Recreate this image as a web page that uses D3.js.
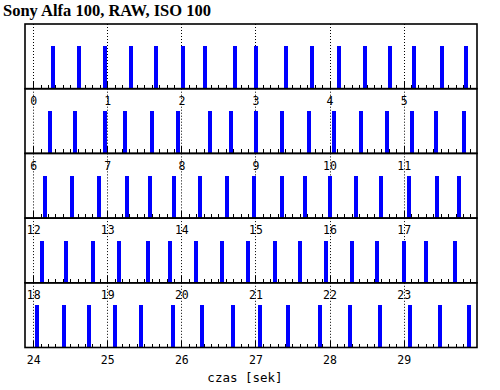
<!DOCTYPE html>
<html>
<head>
<meta charset="utf-8">
<script src="https://cdn.jsdelivr.net/npm/d3@7"></script>
<style>
  body { margin: 0; background: #fff; }
  .axis text { font-family: "DejaVu Sans Mono", monospace; font-size: 11.5px; fill: #000; }
  .axis line { stroke: #000; shape-rendering: crispEdges; }
  .bar { shape-rendering: crispEdges; }
</style>
</head>
<body>
<div id="chart"></div>
<script>
const svgWidth = 500;
const svgHeight = 390;

const margin = { top: 24, right: 23, bottom: 42.5, left: 25 };

const chartWidth = svgWidth - margin.left - margin.right;
const chartHeight = svgHeight - margin.top - margin.bottom;

// data: start of each 6 s strip, and shutter moments in seconds
const title = "Sony Alfa 100, RAW, ISO 100";
const xLabel = "czas [sek]";
const panelStarts = [0, 6, 12, 18, 24];
const panelSpan = 6;
const shutterTimes = [
    0.266, 0.617, 0.967, 1.318, 1.664, 2.028, 2.316, 2.720, 3.013, 3.408, 3.759, 4.132, 4.473, 4.820, 5.144, 5.521, 5.845,
    6.225, 6.562, 6.967, 7.237, 7.610, 7.951, 8.382, 8.675, 9.013, 9.363, 9.718, 10.055, 10.429, 10.779, 11.117, 11.440, 11.808,
    12.154, 12.531, 12.886, 13.264, 13.583, 13.907, 14.248, 14.622, 14.977, 15.363, 15.674, 16.011, 16.352, 16.699, 17.067, 17.454, 17.741,
    18.117, 18.450, 18.801, 19.152, 19.556, 19.853, 20.204, 20.554, 20.905, 21.260, 21.597, 21.948, 22.308, 22.645, 23.000, 23.306, 23.697,
    24.046, 24.414, 24.747, 25.102, 25.462, 25.893, 26.284, 26.697, 27.057, 27.444, 27.866, 28.280, 28.676, 29.080, 29.485, 29.876
];

const svg = d3.select("#chart").append("svg")
    .attr("width", svgWidth)
    .attr("height", svgHeight)
    .style("background", "#fff");

svg.append("text")
    .attr("x", 3)
    .attr("y", 16)
    .attr("font-family", "Liberation Serif, serif")
    .attr("font-weight", "bold")
    .attr("font-size", "16.5px")
    .text(title);

const panelHeight = chartHeight / panelStarts.length;

const yScale = d3.scaleLinear()
    .domain([0, 1.53])
    .range([panelHeight, 0]);

panelStarts.forEach((start, i) => {
    const xScale = d3.scaleLinear()
        .domain([start - 0.11, start + panelSpan - 0.01])
        .range([0, chartWidth]);

    const g = svg.append("g")
        .attr("transform", `translate(${margin.left}, ${margin.top + i * panelHeight})`);

    // dotted lines at whole seconds
    const seconds = d3.range(start, start + panelSpan);
    g.selectAll(".sec").data(seconds)
        .enter().append("line")
        .attr("class", "sec")
        .attr("x1", d => Math.round(xScale(d)) + 0.5)
        .attr("x2", d => Math.round(xScale(d)) + 0.5)
        .attr("y1", 0)
        .attr("y2", panelHeight)
        .attr("stroke", "#000")
        .attr("stroke-dasharray", "1,2");

    // minor ticks every 0.1 s
    const minor = d3.range(0, panelSpan * 10).map(k => start + k / 10);
    g.append("g")
        .attr("class", "axis")
        .attr("transform", `translate(0, ${panelHeight})`)
        .call(d3.axisBottom(xScale).tickValues(minor).tickSize(-4).tickFormat(""))
        .call(a => a.select(".domain").remove());

    // major ticks + labels
    g.append("g")
        .attr("class", "axis")
        .attr("transform", `translate(0, ${panelHeight})`)
        .call(d3.axisBottom(xScale).tickValues(seconds).tickSize(-7).tickPadding(8).tickFormat(d3.format("d")))
        .call(a => a.select(".domain").remove());

    const bars = shutterTimes.filter(t => t >= start && t < start + panelSpan);
    g.selectAll("rect.bar").data(bars)
        .enter().append("rect")
        .attr("class", "bar")
        .attr("x", d => xScale(d) - 2)
        .attr("y", yScale(1))
        .attr("width", 4)
        .attr("height", panelHeight - yScale(1))
        .attr("fill", "#0000ff");

    g.append("rect")
        .attr("width", chartWidth)
        .attr("height", panelHeight)
        .attr("fill", "none")
        .attr("stroke", "#000")
        .attr("stroke-width", 1.6);
});

svg.append("text")
    .attr("x", margin.left + chartWidth / 2 - 6)
    .attr("y", svgHeight - 8.5)
    .attr("text-anchor", "middle")
    .attr("font-family", "DejaVu Sans Mono, monospace")
    .attr("font-size", "12.5px")
    .text(xLabel);
</script>
</body>
</html>
